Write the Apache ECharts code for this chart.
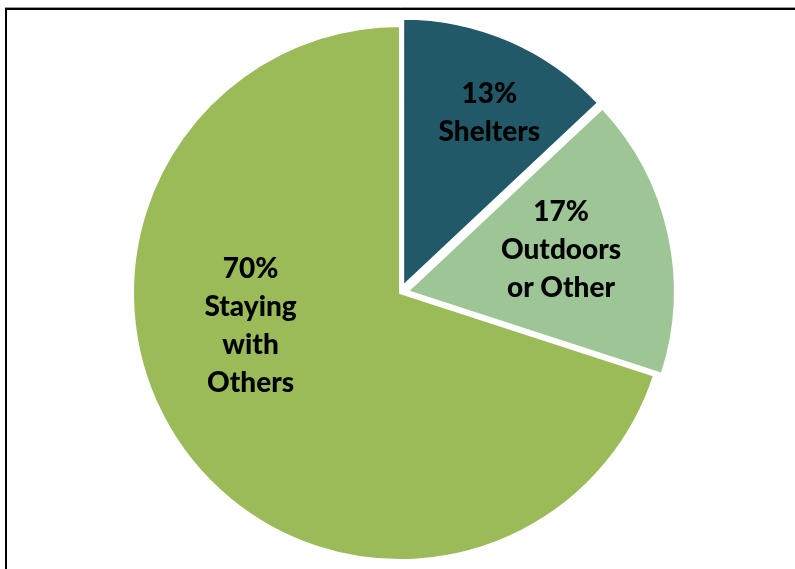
<!DOCTYPE html>
<html>
<head>
<meta charset="utf-8">
<script src="https://cdn.jsdelivr.net/npm/echarts@6/dist/echarts.min.js"></script>
<style>
  html, body { margin: 0; padding: 0; background: #fff; }
  #chart { width: 795px; height: 569px; }
</style>
</head>
<body>
<div id="chart"></div>
<script>
// Where people are living: share of each living situation (percent)
const categories = ['Shelters', 'Outdoors\nor Other', 'Staying\nwith\nOthers'];
const shares = [13, 17, 70];
const sliceColors = ['#215968', '#9dc596', '#9bbb59'];
// slices pulled out from the centre
const pulledOut = [true, true, false];
// nudges for the in-slice labels
const labelNudges = [[32, -47], [20, -12], [-39, -47]];

const chart = echarts.init(document.getElementById('chart'), null, { renderer: 'canvas' });

const data = categories.map((name, i) => ({
  name: name,
  value: shares[i],
  selected: pulledOut[i],
  itemStyle: { color: sliceColors[i] },
  label: { offset: labelNudges[i] },
  select: { label: { offset: labelNudges[i] } }
}));

chart.setOption({
  animation: false,
  backgroundColor: '#ffffff',
  graphic: [
    {
      type: 'line',
      shape: { x1: 5, y1: 7.5, x2: 800, y2: 7.5 },
      style: { stroke: '#9a9a9a', lineWidth: 1 },
      silent: true
    },
    {
      type: 'rect',
      shape: { x: 6, y: 9, width: 820, height: 620 },
      style: { fill: 'none', stroke: '#000000', lineWidth: 2 },
      silent: true
    }
  ],
  series: [{
    type: 'pie',
    center: [400, 293],
    radius: 267,
    startAngle: 90,
    clockwise: true,
    selectedMode: 'multiple',
    selectedOffset: 8,
    avoidLabelOverlap: false,
    itemStyle: { borderColor: '#ffffff', borderWidth: 2 },
    select: { itemStyle: { borderColor: '#ffffff', borderWidth: 2 } },
    emphasis: { disabled: true },
    labelLine: { show: false },
    label: {
      show: true,
      position: 'inside',
      formatter: p => p.value + '%\n' + p.name,
      fontFamily: 'Lato',
      fontWeight: 900,
      fontSize: 28,
      lineHeight: 38,
      color: '#000000',
      align: 'center'
    },
    data: data
  }]
});
</script>
</body>
</html>
